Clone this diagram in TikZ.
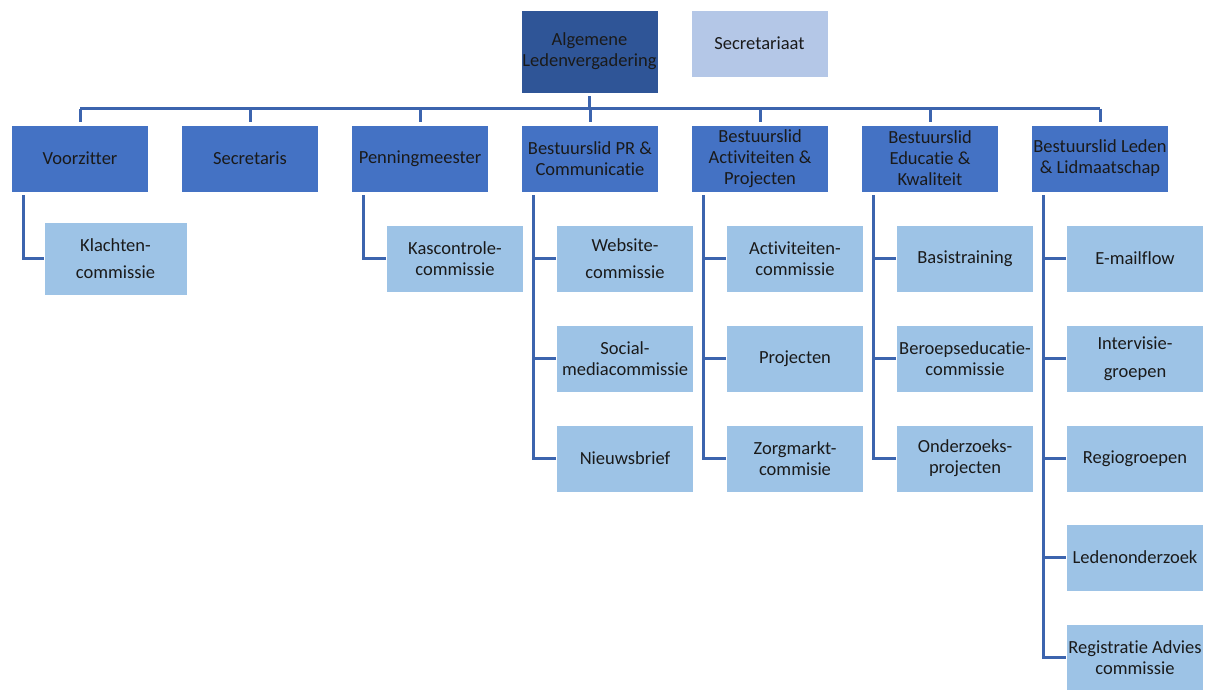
\documentclass[tikz,border=0pt]{standalone}
\usepackage{fontspec}
\setmainfont{Carlito}[Ligatures=NoCommon]
\definecolor{cdark}{HTML}{2F5597}
\definecolor{cmid}{HTML}{4472C4}
\definecolor{clight}{HTML}{9DC3E6}
\definecolor{csec}{HTML}{B4C7E7}
\definecolor{cline}{HTML}{3C64AE}
\definecolor{ctext}{HTML}{1A1A1A}
\begin{document}
\begin{tikzpicture}[x=1pt,y=-1pt,
  box/.style={draw=white,line width=0.8pt,minimum width=137pt,minimum height=67pt,inner sep=0pt,
    align=center,text=ctext,font=\fontsize{18.5}{21}\selectfont},
  topbox/.style={box,fill=cmid},
  subbox/.style={box,fill=clight},
  conn/.style={draw=cline,line width=3pt},
]
\useasboundingbox (0,0) rectangle (1215,689);
% top
\node[box,fill=cdark,minimum height=83pt] (alv) at (589.5,51.5) {Algemene\\Ledenvergadering};
\node[box,fill=csec] (secr) at (759.5,43.5) {Secretariaat};
% first row
\node[topbox] (voorz) at (80,158.5) {Voorzitter};
\node[topbox] (secris) at (250,158.5) {Secretaris};
\node[topbox] (penn) at (420,158.5) {Penningmeester};
\node[topbox] (pr) at (590,158.5) {Bestuurslid PR \&\\Communicatie};
\node[topbox] (act) at (760,158.5) {Bestuurslid\\Activiteiten \&\\Projecten};
\node[topbox] (edu) at (930,158.5) {Bestuurslid\\Educatie \&\\Kwaliteit};
\node[topbox] (led) at (1100,158.5) {Bestuurslid Leden\\\& Lidmaatschap};
% children
\node[subbox,minimum width=143pt,minimum height=73pt] (klacht) at (115.5,258.5) {Klachten-\\[6pt]commissie};
\node[subbox] (kas) at (455,258.5) {Kascontrole-\\commissie};
\node[subbox] (web) at (625,258.5) {Website-\\[6pt]commissie};
\node[subbox] (soc) at (625,358.5) {Social-\\mediacommissie};
\node[subbox] (nieuws) at (625,458.5) {Nieuwsbrief};
\node[subbox] (actc) at (795,258.5) {Activiteiten-\\commissie};
\node[subbox] (proj) at (795,358.5) {Projecten};
\node[subbox] (zorg) at (795,458.5) {Zorgmarkt-\\commisie};
\node[subbox] (basis) at (965,258.5) {Basistraining};
\node[subbox] (beroep) at (965,358.5) {Beroepseducatie-\\commissie};
\node[subbox] (onderz) at (965,458.5) {Onderzoeks-\\projecten};
\node[subbox] (email) at (1135,258.5) {E-mailflow};
\node[subbox] (intv) at (1135,358.5) {Intervisie-\\[7pt]groepen};
\node[subbox] (regio) at (1135,458.5) {Regiogroepen};
\node[subbox] (ledo) at (1135,557.5) {Ledenonderzoek};
\node[subbox] (regadv) at (1135,657.5) {Registratie Advies\\commissie};
% bus
\coordinate (busL) at ([yshift=16pt]voorz.north);
\coordinate (busR) at ([yshift=16pt]led.north);
\draw[conn] (busL) -- (busR);
\draw[conn,shorten <=3pt] (alv.south) -- (alv.south |- busL);
\foreach \n in {voorz,secris,penn,pr,act,edu,led}
  \draw[conn,shorten >=3pt] (\n.north |- busL) -- (\n.north);
% child connectors
\foreach \p/\c in {voorz/klacht,penn/kas,pr/web,pr/soc,pr/nieuws,act/actc,act/proj,act/zorg,
  edu/basis,edu/beroep,edu/onderz,led/email,led/intv,led/regio,led/ledo,led/regadv}
  \draw[conn] ([xshift=12pt,yshift=-3pt]\p.south west) |- (\c.west);
\end{tikzpicture}
\end{document}
